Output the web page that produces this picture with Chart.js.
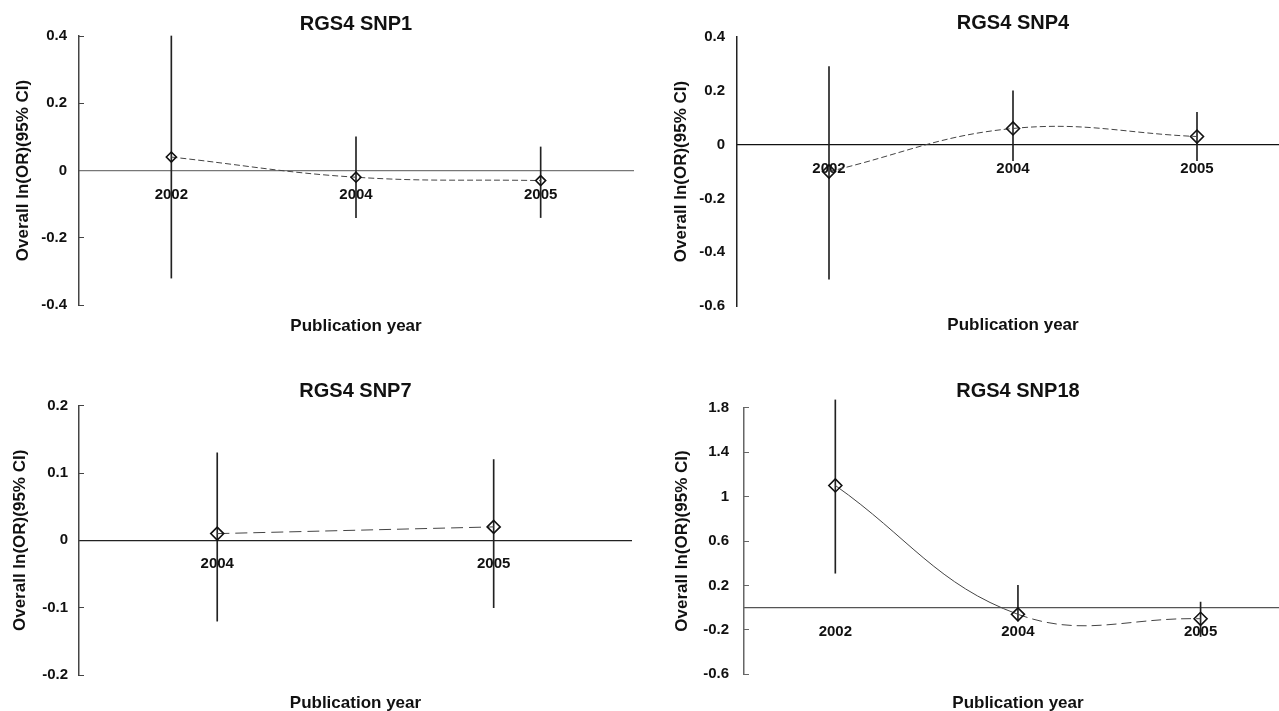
<!DOCTYPE html>
<html>
<head>
<meta charset="utf-8">
<script src="https://cdn.jsdelivr.net/npm/chart.js@4.4.1/dist/chart.umd.min.js"></script>
<style>
  html, body { margin: 0; padding: 0; background: #fff; overflow: hidden; }
  body { width: 1279px; height: 711px; position: relative; }
  canvas { position: absolute; }
</style>
</head>
<body>
<canvas id="snp1"  width="640" height="340" style="left:0;top:0"></canvas>
<canvas id="snp4"  width="660" height="340" style="left:640px;top:0"></canvas>
<canvas id="snp7"  width="640" height="374" style="left:0;top:340px"></canvas>
<canvas id="snp18" width="660" height="374" style="left:640px;top:340px"></canvas>
<script>
// ── data ────────────────────────────────────────────────────────────────────
const SNP1_YEARS = ['2002', '2004', '2005'];
const SNP1_OR    = [0.04, -0.02, -0.03];
const SNP1_LO    = [-0.32, -0.14, -0.14];
const SNP1_HI    = [0.40, 0.10, 0.07];
const SNP1_YAXIS = [-0.4, 0.4, 0.2];   // min, max, step

const SNP4_YEARS = ['2002', '2004', '2005'];
const SNP4_OR    = [-0.10, 0.06, 0.03];
const SNP4_LO    = [-0.50, -0.06, -0.06];
const SNP4_HI    = [0.29, 0.20, 0.12];
const SNP4_YAXIS = [-0.6, 0.4, 0.2];

const SNP7_YEARS = ['2004', '2005'];
const SNP7_OR    = [0.01, 0.02];
const SNP7_LO    = [-0.12, -0.10];
const SNP7_HI    = [0.13, 0.12];
const SNP7_YAXIS = [-0.2, 0.2, 0.1];

const SNP18_YEARS = ['2002', '2004', '2005'];
const SNP18_OR    = [1.10, -0.06, -0.10];
const SNP18_LO    = [0.31, -0.12, -0.26];
const SNP18_HI    = [1.87, 0.20, 0.05];
const SNP18_YAXIS = [-0.6, 1.8, 0.4];

const Y_TITLE = 'Overall ln(OR)(95% CI)';
const X_TITLE = 'Publication year';

Chart.defaults.font.family = "'Liberation Sans', Arial, sans-serif";
Chart.defaults.font.weight = 'bold';
Chart.defaults.color = '#111';

// ── one panel ────────────────────────────────────────────────────────────────
function drawPanel(id, title, years, or, lo, hi, yaxis, st) {
  new Chart(document.getElementById(id), {
    type: 'line',
    data: {
      labels: years,
      datasets: [
        {
          type: 'line',
          data: or,
          order: 0,
          borderColor: '#444',
          borderWidth: 1,
          borderDash: st.dash,
          segment: st.segment,
          tension: 0.4,
          fill: false,
          pointStyle: 'rectRot',
          pointRadius: st.marker,
          pointBorderWidth: 1.6,
          pointBorderColor: '#111',
          pointBackgroundColor: 'rgba(255,255,255,0)',
        },
        {
          type: 'bar',
          data: years.map((_, i) => [lo[i], hi[i]]),
          order: 1,
          backgroundColor: '#222',
          barThickness: 1,
          borderWidth: 0,
          clip: false,
        },
      ],
    },
    options: {
      responsive: false,
      animation: false,
      layout: { padding: { left: 0, top: 0, bottom: 0, right: st.padRight } },
      plugins: {
        legend: { display: false },
        tooltip: { enabled: false },
        title: {
          display: true, text: title, fullSize: false,
          font: { size: 20, weight: 'bold' }, color: '#111',
          padding: { top: st.titleTop, bottom: st.titleBottom },
        },
        subtitle: {
          display: true, text: X_TITLE, position: 'bottom', fullSize: false,
          font: { size: 17, weight: 'bold' }, color: '#111',
          padding: { top: st.subTop, bottom: st.subBottom },
        },
      },
      scales: {
        x: {
          type: 'category',
          offset: true,
          position: { y: 0 },
          grid: { display: false, offset: true },
          border: { display: true, color: st.zeroColor, width: 1.3 },
          ticks: { padding: 7, font: { size: 15, weight: 'bold' }, color: '#111', maxRotation: 0 },
        },
        y: {
          min: yaxis[0], max: yaxis[1],
          ticks: {
            stepSize: yaxis[2], padding: st.tickPad,
            font: { size: 15, weight: 'bold' }, color: '#111',
            callback: v => String(+v.toFixed(2)),
          },
          grid: { drawOnChartArea: false, drawTicks: st.yTicks, tickLength: -5, color: st.axisColor },
          border: { display: true, color: st.axisColor, width: 1.5 },
          title: {
            display: true, text: Y_TITLE,
            font: { size: 17, weight: 'bold' }, color: '#111',
            padding: { top: st.yTitlePad, bottom: 0 },
          },
          afterFit: s => { s.width = st.yWidth; },
        },
      },
    },
  });
}

drawPanel('snp1', 'RGS4 SNP1', SNP1_YEARS, SNP1_OR, SNP1_LO, SNP1_HI, SNP1_YAXIS, {
  dash: [6, 3], marker: 5, padRight: 7, yWidth: 79, yTitlePad: 12.8, tickPad: 17, yTicks: true,
  titleTop: 12, titleBottom: 0, subTop: 10.8, subBottom: 3.8,
  axisColor: '#444', zeroColor: '#777',
});

drawPanel('snp4', 'RGS4 SNP4', SNP4_YEARS, SNP4_OR, SNP4_LO, SNP4_HI, SNP4_YAXIS, {
  dash: [6, 3], marker: 6.5, padRight: 11, yWidth: 97, yTitlePad: 31.3, tickPad: 12, yTicks: false,
  titleTop: 11.3, titleBottom: 1.7, subTop: 8.8, subBottom: 4.8,
  axisColor: '#222', zeroColor: '#111',
});

drawPanel('snp7', 'RGS4 SNP7', SNP7_YEARS, SNP7_OR, SNP7_LO, SNP7_HI, SNP7_YAXIS, {
  dash: [12, 6], marker: 6.5, padRight: 7, yWidth: 79, yTitlePad: 9.8, tickPad: 16, yTicks: true,
  titleTop: 39.5, titleBottom: 2.2, subTop: 17.8, subBottom: 0.8,
  axisColor: '#444', zeroColor: '#222',
});

drawPanel('snp18', 'RGS4 SNP18', SNP18_YEARS, SNP18_OR, SNP18_LO, SNP18_HI, SNP18_YAXIS, {
  dash: [], marker: 6.5, padRight: 6, yWidth: 104, yTitlePad: 31.8, tickPad: 20, yTicks: true,
  segment: { borderDash: c => c.p0DataIndex === 0 ? [] : [10, 5] },
  titleTop: 39.5, titleBottom: 4.2, subTop: 18.5, subBottom: 0.8,
  axisColor: '#666', zeroColor: '#555',
});
</script>
</body>
</html>
